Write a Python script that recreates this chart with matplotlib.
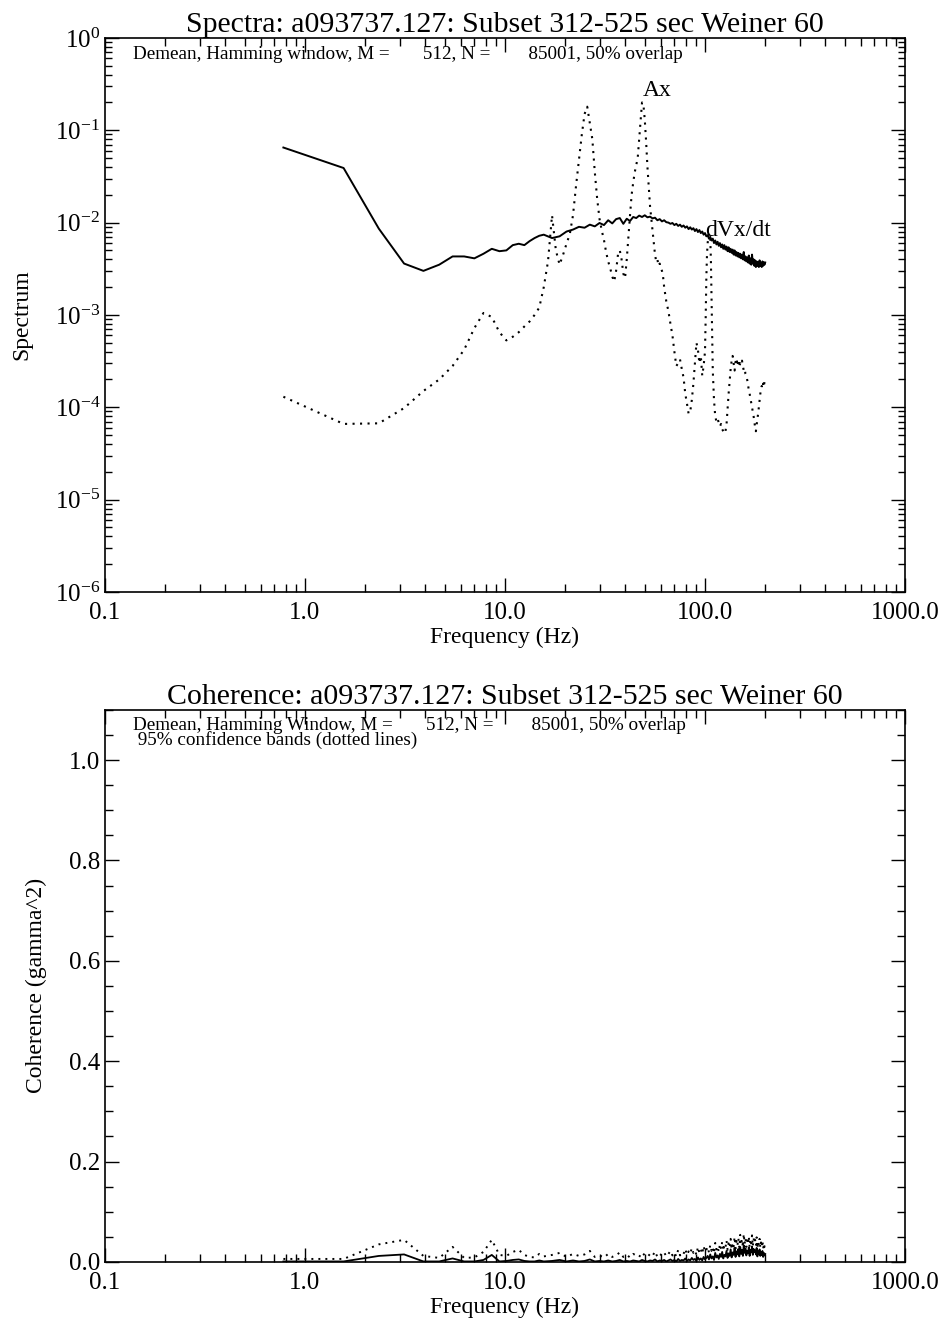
import matplotlib
matplotlib.use('Agg')
import matplotlib.pyplot as plt
import numpy as np
from matplotlib.ticker import FixedLocator, FixedFormatter, LogLocator, FuncFormatter, MultipleLocator

plt.rcParams['font.family'] = ['Liberation Serif', 'DejaVu Serif']
plt.rcParams['mathtext.fontset'] = 'custom'
plt.rcParams['mathtext.rm'] = 'Liberation Serif'
plt.rcParams['mathtext.it'] = 'Liberation Serif:italic'
plt.rcParams['mathtext.bf'] = 'Liberation Serif:bold'

# common frequency grid (Hz) for dVx/dt spectrum and coherence
freq = [0.78, 1.56, 2.34, 3.13, 3.91, 4.69, 5.47, 6.25, 7.03, 7.81,
        8.59, 9.38, 10.16, 10.94, 11.72, 12.50, 13.28, 14.06, 14.84, 15.63,
        17.19, 18.75, 20.31, 21.88, 23.44, 25.00, 26.56, 28.13, 29.69, 31.25,
        32.81, 34.38, 35.94, 37.50, 39.06, 40.63, 42.19, 43.75, 45.31, 46.88,
        48.44, 50.00, 51.56, 53.13, 54.69, 56.25, 57.81, 59.38, 60.94, 62.50,
        64.06, 65.63, 67.19, 68.75, 70.31, 71.88, 73.44, 75.00, 76.56, 78.13,
        79.69, 81.25, 82.81, 84.38, 85.94, 87.50, 89.06, 90.63, 92.19, 93.75,
        95.31, 96.88, 98.44, 100.00, 101.56, 103.13, 104.69, 106.25, 107.81, 109.38,
        110.94, 112.50, 114.06, 115.63, 117.19, 118.75, 120.31, 121.88, 123.44, 125.00,
        126.56, 128.13, 129.69, 131.25, 132.81, 134.38, 135.94, 137.50, 139.06, 140.63,
        142.19, 143.75, 145.31, 146.88, 148.44, 150.00, 151.56, 153.13, 154.69, 156.25,
        157.81, 159.38, 160.94, 162.50, 164.06, 165.63, 167.19, 168.75, 170.31, 171.88,
        173.44, 175.00, 176.56, 178.13, 179.69, 181.25, 182.81, 184.38, 185.94, 187.50,
        189.06, 190.63, 192.19, 193.75, 195.31, 196.88, 198.44, 200.00]

dvdt_spec = [0.065, 0.039, 0.0086, 0.0036, 0.0030, 0.0035, 0.0043, 0.0043, 0.0041, 0.0046,
             0.0052, 0.0049, 0.0050, 0.0057, 0.0059, 0.0057, 0.0063, 0.0068, 0.0072, 0.0074,
             0.0068, 0.0071, 0.0080, 0.0084, 0.0090, 0.0088, 0.0095, 0.0091, 0.0099, 0.0094,
             0.0106, 0.0098, 0.0109, 0.0112, 0.0097, 0.0110, 0.0104, 0.0115, 0.0112, 0.0119,
             0.0115, 0.0120, 0.0114, 0.0116, 0.0111, 0.0113, 0.0106, 0.0109, 0.0103, 0.0106,
             0.0101, 0.0100, 0.0097, 0.0099, 0.0094, 0.0097, 0.0092, 0.0095, 0.0090, 0.0093,
             0.0088, 0.0091, 0.0085, 0.0089, 0.0084, 0.0087, 0.0081, 0.0085, 0.0079, 0.0083,
             0.0077, 0.0080, 0.0074, 0.0077, 0.0071, 0.0073, 0.0067, 0.0070, 0.0064, 0.0067,
             0.0060, 0.0064, 0.0058, 0.0062, 0.0056, 0.0060, 0.0054, 0.0058, 0.0052, 0.0057,
             0.0051, 0.0055, 0.0049, 0.0054, 0.0048, 0.0052, 0.0047, 0.0051, 0.0045, 0.0050,
             0.0044, 0.0048, 0.0043, 0.0047, 0.0042, 0.0046, 0.0041, 0.0045, 0.0040, 0.0048,
             0.0039, 0.0043, 0.0038, 0.0042, 0.0037, 0.0044, 0.0036, 0.0041, 0.0035, 0.0045,
             0.0036, 0.0040, 0.0034, 0.0039, 0.0033, 0.0038, 0.0034, 0.0037, 0.0033, 0.0039,
             0.0034, 0.0036, 0.0033, 0.0038, 0.0034, 0.0037, 0.0035, 0.0037]

# Ax spectrum, finer grid around the resonance peaks
freq_ax = [0.78, 1.56, 2.34, 3.13, 3.91, 4.69, 5.47, 6.25, 7.03, 7.81,
           8.59, 9.38, 10.16, 10.94, 11.72, 12.50, 13.28, 14.06, 14.84, 15.63,
           16.41, 17.19, 17.97, 18.75, 19.53, 20.31, 21.09, 21.88, 22.66, 23.44,
           24.22, 25.00, 25.78, 26.56, 27.34, 28.13, 28.91, 29.69, 30.47, 31.25,
           32.03, 32.81, 33.59, 34.38, 35.16, 35.94, 36.72, 37.50, 38.28, 39.06,
           39.84, 40.63, 41.41, 42.19, 42.97, 43.75, 44.53, 45.31, 46.09, 46.88,
           47.66, 48.44, 49.22, 50.00, 50.78, 51.56, 52.34, 53.13, 53.91, 54.69,
           55.47, 56.25, 57.03, 57.81, 58.59, 59.38, 60.16, 60.94, 61.72, 62.50,
           64.06, 65.63, 67.19, 68.75, 70.31, 71.88, 73.44, 75.00, 76.56, 78.13,
           79.69, 81.25, 82.81, 84.38, 85.94, 87.50, 89.06, 90.63, 92.19, 93.75,
           95.31, 96.88, 98.44, 100.00, 100.78, 101.56, 102.34, 103.13, 103.91, 104.69,
           105.47, 106.25, 107.03, 107.81, 108.59, 109.38, 110.94, 112.50, 114.06, 115.63,
           117.19, 118.75, 120.31, 121.88, 123.44, 125.00, 126.56, 128.13, 129.69, 131.25,
           132.81, 134.38, 135.94, 137.50, 139.06, 140.63, 142.19, 143.75, 145.31, 146.88,
           148.44, 150.00, 151.56, 153.13, 154.69, 156.25, 157.81, 159.38, 160.94, 162.50,
           164.06, 165.63, 167.19, 168.75, 170.31, 171.88, 173.44, 175.00, 176.56, 178.13,
           179.69, 181.25, 182.81, 184.38, 185.94, 187.50, 189.06, 190.63, 192.19, 193.75,
           195.31, 196.88, 198.44, 200.00]

ax_spec = [1.3e-4, 6.6e-5, 6.7e-5, 9.8e-5, 1.5e-4, 2.0e-4, 2.8e-4, 4.2e-4, 7.2e-4, 1.05e-3,
           9.5e-4, 6.5e-4, 5.3e-4, 5.8e-4, 6.5e-4, 7.5e-4, 8.5e-4, 1.0e-3, 1.2e-3, 2.0e-3,
           3.8e-3, 1.2e-2, 5.0e-3, 3.5e-3, 4.5e-3, 5.9e-3, 7.5e-3, 1.2e-2, 2.5e-2, 4.8e-2,
           9.0e-2, 0.15, 0.18, 0.12, 0.08, 0.035, 0.018, 0.011, 8.2e-3, 6.5e-3,
           4.8e-3, 3.8e-3, 3.2e-3, 2.6e-3, 2.3e-3, 3.0e-3, 4.5e-3, 5.0e-3, 4.0e-3, 2.8e-3,
           2.5e-3, 4.0e-3, 7.0e-3, 1.2e-2, 2.0e-2, 2.7e-2, 3.5e-2, 4.2e-2, 5.0e-2, 8.0e-2,
           0.13, 0.20, 0.19, 0.13, 0.075, 0.040, 0.024, 0.015, 0.011, 8.0e-3,
           6.0e-3, 4.5e-3, 3.8e-3, 4.0e-3, 3.4e-3, 3.6e-3, 3.2e-3, 3.0e-3, 2.6e-3, 2.0e-3,
           1.4e-3, 1.1e-3, 8.0e-4, 6.0e-4, 4.0e-4, 2.8e-4, 3.0e-4, 3.3e-4, 2.6e-4, 2.1e-4,
           1.4e-4, 1.1e-4, 8.5e-5, 9.0e-5, 1.2e-4, 1.8e-4, 3.0e-4, 5.0e-4, 4.2e-4, 3.0e-4,
           3.6e-4, 2.2e-4, 2.8e-4, 4.0e-4, 9.0e-4, 2.5e-3, 4.5e-3, 6.0e-3, 7.0e-3, 7.6e-3,
           7.4e-3, 6.8e-3, 4.0e-3, 1.5e-3, 5.0e-4, 2.5e-4, 1.2e-4, 8.0e-5, 7.0e-5, 7.5e-5,
           6.8e-5, 6.2e-5, 6.6e-5, 5.8e-5, 5.5e-5, 5.2e-5, 5.5e-5, 6.5e-5, 9.5e-5, 1.4e-4,
           1.9e-4, 2.6e-4, 3.2e-4, 3.6e-4, 3.0e-4, 2.5e-4, 3.1e-4, 3.4e-4, 2.8e-4, 3.3e-4,
           2.7e-4, 3.0e-4, 2.9e-4, 3.2e-4, 2.8e-4, 2.5e-4, 2.6e-4, 2.3e-4, 2.2e-4, 2.0e-4,
           1.8e-4, 1.5e-4, 1.4e-4, 1.25e-4, 1.1e-4, 1.0e-4, 9.0e-5, 8.0e-5, 7.0e-5, 6.0e-5,
           5.5e-5, 6.5e-5, 7.5e-5, 8.5e-5, 1.0e-4, 1.2e-4, 1.4e-4, 1.55e-4, 1.7e-4, 1.6e-4,
           1.8e-4, 1.65e-4, 1.9e-4, 1.8e-4]

# coherence and its upper 95% confidence band
coh = [0.001, 0.001, 0.012, 0.015, 0.001, 0.001, 0.007, 0.001, 0.001, 0.004,
       0.014, 0.001, 0.002, 0.004, 0.005, 0.002, 0.001, 0.001, 0.003, 0.001,
       0.002, 0.004, 0.001, 0.003, 0.001, 0.002, 0.005, 0.001, 0.002, 0.001,
       0.003, 0.001, 0.002, 0.004, 0.001, 0.002, 0.001, 0.003, 0.002, 0.001,
       0.004, 0.002, 0.001, 0.003, 0.002, 0.005, 0.001, 0.003, 0.002, 0.004,
       0.001, 0.003, 0.005, 0.002, 0.004, 0.001, 0.006, 0.002, 0.004, 0.003,
       0.007, 0.002, 0.005, 0.003, 0.008, 0.004, 0.006, 0.002, 0.009, 0.004,
       0.007, 0.003, 0.010, 0.005, 0.008, 0.012, 0.005, 0.015, 0.007, 0.011,
       0.004, 0.018, 0.009, 0.013, 0.006, 0.016, 0.010, 0.020, 0.007, 0.014,
       0.011, 0.022, 0.008, 0.017, 0.012, 0.025, 0.009, 0.019, 0.014, 0.028,
       0.010, 0.021, 0.015, 0.026, 0.011, 0.030, 0.016, 0.024, 0.012, 0.033,
       0.018, 0.027, 0.013, 0.022, 0.017, 0.029, 0.012, 0.024, 0.019, 0.031,
       0.014, 0.026, 0.020, 0.023, 0.015, 0.028, 0.011, 0.021, 0.016, 0.025,
       0.012, 0.019, 0.014, 0.022, 0.010, 0.018, 0.013, 0.016]

coh_upper = [0.006, 0.006, 0.035, 0.044, 0.012, 0.008, 0.030, 0.008, 0.009, 0.020,
             0.044, 0.014, 0.012, 0.020, 0.024, 0.014, 0.010, 0.009, 0.016, 0.011,
             0.014, 0.018, 0.010, 0.016, 0.012, 0.015, 0.022, 0.010, 0.013, 0.009,
             0.016, 0.010, 0.013, 0.019, 0.010, 0.014, 0.009, 0.016, 0.013, 0.010,
             0.019, 0.013, 0.010, 0.016, 0.012, 0.021, 0.010, 0.016, 0.013, 0.019,
             0.011, 0.016, 0.022, 0.013, 0.019, 0.011, 0.024, 0.013, 0.019, 0.016,
             0.026, 0.014, 0.021, 0.016, 0.028, 0.018, 0.023, 0.014, 0.030, 0.018,
             0.025, 0.016, 0.032, 0.020, 0.024, 0.030, 0.019, 0.034, 0.022, 0.029,
             0.017, 0.038, 0.025, 0.031, 0.020, 0.036, 0.026, 0.040, 0.022, 0.033,
             0.028, 0.043, 0.024, 0.037, 0.029, 0.046, 0.025, 0.039, 0.031, 0.050,
             0.027, 0.042, 0.033, 0.047, 0.028, 0.054, 0.034, 0.045, 0.029, 0.056,
             0.036, 0.048, 0.030, 0.043, 0.035, 0.051, 0.029, 0.045, 0.037, 0.053,
             0.031, 0.047, 0.038, 0.044, 0.032, 0.049, 0.027, 0.041, 0.034, 0.046,
             0.028, 0.039, 0.031, 0.043, 0.026, 0.037, 0.030, 0.034]

xtick_vals = [0.1, 1.0, 10.0, 100.0, 1000.0]
xtick_text = ['0.1', '1.0', '10.0', '100.0', '1000.0']
coh_ticks = [0.0, 0.2, 0.4, 0.6, 0.8, 1.0]

title_tail = 'a093737.127: Subset 312-525 sec Weiner 60'
dotted = (0, (1, 2.6))

fig = plt.figure(figsize=(9.43, 13.21), dpi=100)
ax1 = fig.add_axes([0.1113, 0.5519, 0.8484, 0.4194])
ax2 = fig.add_axes([0.1113, 0.0447, 0.8484, 0.4179])


def style_axis(ax):
    ax.set_xscale('log')
    ax.set_xlim(0.1, 1000.0)
    ax.xaxis.set_major_locator(FixedLocator(xtick_vals))
    ax.xaxis.set_major_formatter(FixedFormatter(xtick_text))
    ax.xaxis.set_minor_locator(LogLocator(base=10, subs=np.arange(2, 10), numticks=20))
    ax.tick_params(which='both', direction='in', top=True, right=True, labelsize=18, width=1)
    ax.tick_params(which='major', length=10)
    ax.tick_params(which='minor', length=6)
    ax.tick_params(axis='x', pad=7)
    for sp in ax.spines.values():
        sp.set_linewidth(1.2)
    ax.set_xlabel('Frequency (Hz)', fontsize=17, labelpad=2)


# ---- Spectra ----
style_axis(ax1)
ax1.plot(freq, dvdt_spec, color='black', lw=1.4)
ax1.plot(freq_ax, ax_spec, color='black', lw=1.5, linestyle=dotted)
ax1.set_yscale('log')
ax1.set_ylim(1e-6, 1.0)
ax1.yaxis.set_major_locator(LogLocator(base=10, numticks=10))
ax1.yaxis.set_major_formatter(FuncFormatter(lambda v, p: r'$10^{%d}$' % int(round(np.log10(v)))))
ax1.yaxis.set_minor_locator(LogLocator(base=10, subs=np.arange(2, 10), numticks=20))
ax1.tick_params(axis='y', which='minor', length=5)
ax1.set_ylabel('Spectrum', fontsize=17, labelpad=16)
ax1.set_title('Spectra: ' + title_tail, fontsize=21.5, pad=2)
ax1.text(0.035, 0.985, 'Demean, Hamming window, M =       512, N =        85001, 50% overlap',
         transform=ax1.transAxes, fontsize=13.8, va='top', ha='left')
ax1.text(49.0, 0.205, 'Ax', fontsize=17, ha='left', va='bottom')
ax1.text(100.0, 0.0082, 'dVx/dt', fontsize=17, ha='left', va='center')

# ---- Coherence ----
style_axis(ax2)
ax2.plot(freq, coh, color='black', lw=1.3)
ax2.plot(freq, coh_upper, color='black', lw=1.4, linestyle=dotted)
ax2.set_ylim(0, 1.1)
ax2.yaxis.set_major_locator(FixedLocator(coh_ticks))
ax2.yaxis.set_major_formatter(FixedFormatter(['%.1f' % v for v in coh_ticks]))
ax2.yaxis.set_minor_locator(MultipleLocator(0.05))
ax2.set_ylabel('Coherence (gamma^2)', fontsize=17, labelpad=16)
ax2.set_title('Coherence: ' + title_tail, fontsize=21.5, pad=2)
ax2.text(0.035, 0.988, 'Demean, Hamming Window, M =       512, N =        85001, 50% overlap\n'
         ' 95% confidence bands (dotted lines)',
         transform=ax2.transAxes, fontsize=13.8, va='top', ha='left', linespacing=0.85)

fig.savefig('out.png', dpi=100)
